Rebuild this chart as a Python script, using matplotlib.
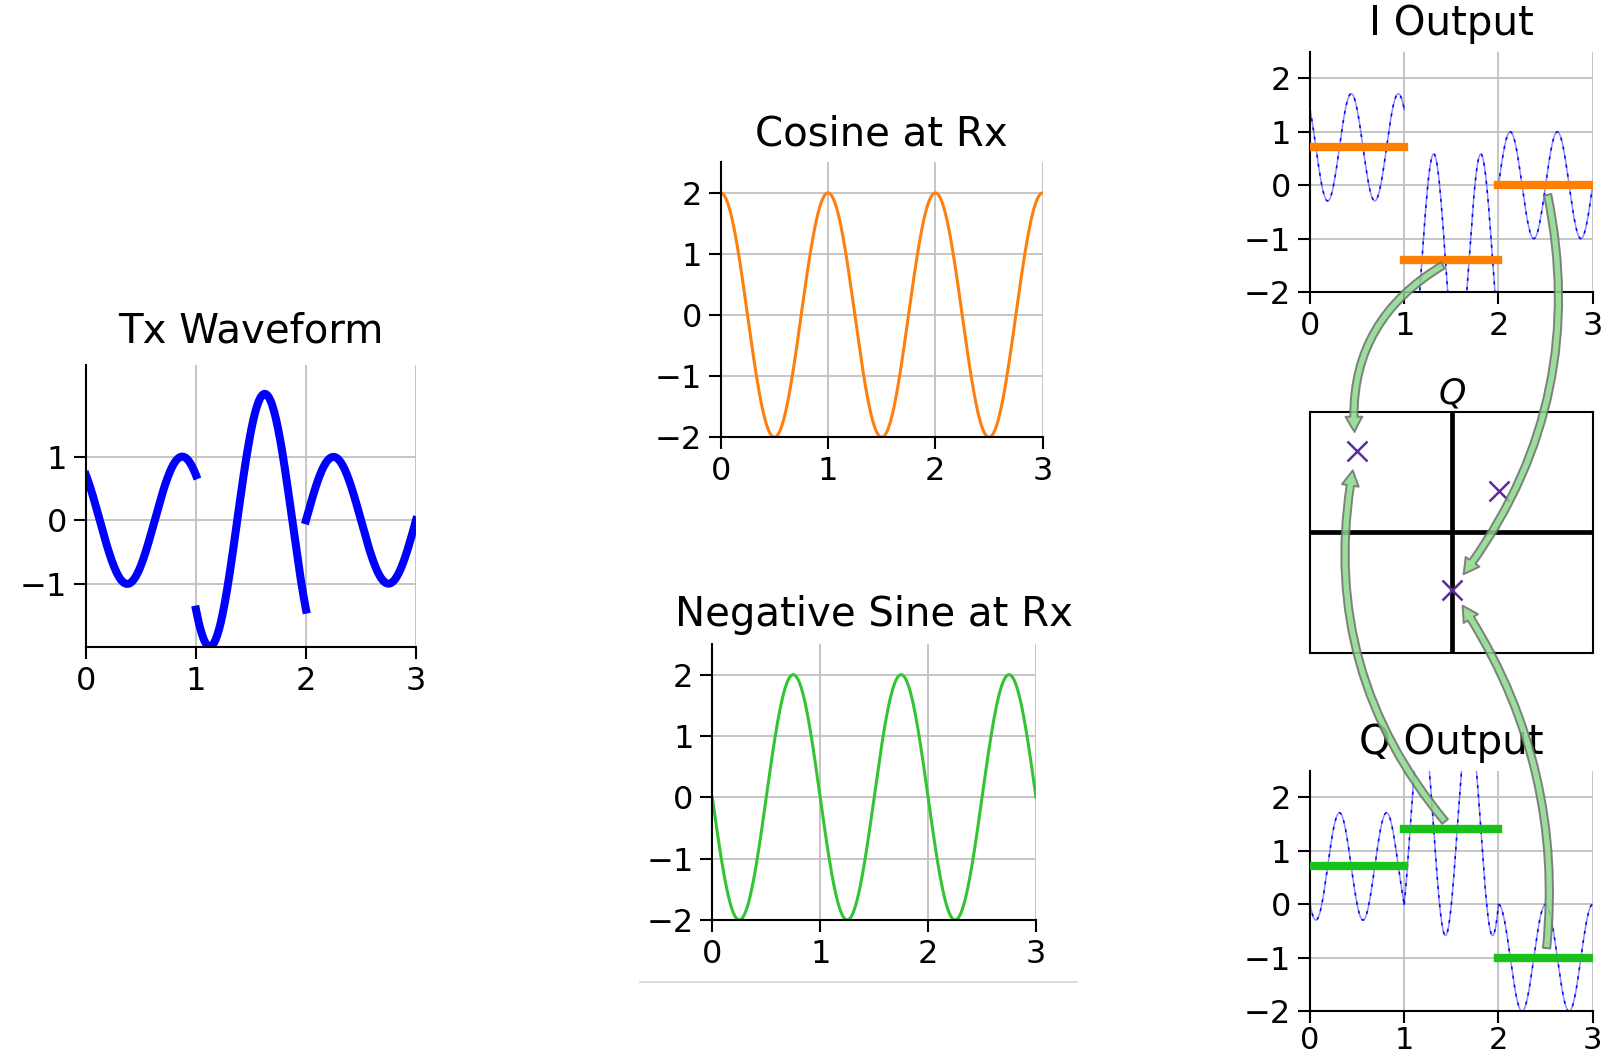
"""
QPSK demodulation sketch: Tx waveform, the two Rx carriers, the I/Q mixer
outputs with their per-symbol averages, and the recovered constellation.
"""

import matplotlib
matplotlib.use("Agg")
import matplotlib.pyplot as plt
import numpy as np
from matplotlib.lines import Line2D
from matplotlib.patches import ConnectionPatch

# symbol values (one per symbol period)
SYMBOL_I = [0.71, -1.41, 0.0]
SYMBOL_Q = [0.71, 1.41, -1.0]
SYMBOL_EDGES = [0, 1, 2, 3]
CARRIER_FREQ = 1.0   # cycles per symbol
RX_AMPLITUDE = 2.0
# which symbols get an arrow to the constellation
ARROW_SYMBOLS = [1, 2]
ARROW_RAD_I = [0.35, -0.24]
ARROW_RAD_Q = [-0.25, 0.19]

W, H = 1601, 1055

plt.rcParams.update({
    "font.family": "DejaVu Sans",
    "font.size": 23,
    "xtick.labelsize": 23,
    "ytick.labelsize": 23,
    "axes.linewidth": 1.5,
    "axes.titlesize": 29,
    "xtick.major.size": 8.5,
    "ytick.major.size": 8.5,
    "xtick.major.width": 1.5,
    "ytick.major.width": 1.5,
    "xtick.major.pad": 5,
    "ytick.major.pad": 5,
    "grid.color": "#c0c0c0",
    "grid.linewidth": 1.3,
})

ORANGE_LINE = "#ff7f0e"
ORANGE_BAR = "#ff7f00"
GREEN_LINE = "#33c433"
GREEN_BAR = "#18c218"
CROSS = "#5b2c9f"


def px_axes(fig, left, right, top, bottom):
    return fig.add_axes([left / W, 1 - bottom / H, (right - left) / W, (bottom - top) / H])


def style_time_axes(ax, yticks, ylim=(-2, 2.5)):
    ax.set_xlim(0, 3)
    ax.set_ylim(*ylim)
    ax.set_xticks([0, 1, 2, 3])
    ax.set_yticks(yticks)
    ax.grid(True)
    ax.set_axisbelow(True)
    for side in ("top", "right"):
        ax.spines[side].set_visible(False)


def segment_time(k, n=200):
    return np.linspace(SYMBOL_EDGES[k], SYMBOL_EDGES[k + 1], n)


def tx_signal(t, k):
    w = 2 * np.pi * CARRIER_FREQ * t
    return SYMBOL_I[k] * np.cos(w) - SYMBOL_Q[k] * np.sin(w)


fig = plt.figure(figsize=(W / 100, H / 100), dpi=100)

# --- Tx waveform
ax_tx = px_axes(fig, 86, 416, 365, 647)
for k in range(len(SYMBOL_I)):
    t = segment_time(k)
    ax_tx.plot(t, tx_signal(t, k), color="blue", lw=5.8)
style_time_axes(ax_tx, [-1, 0, 1], ylim=(-2, 2.45))
ax_tx.set_title("Tx Waveform", pad=16)

# --- Rx carriers
t_all = np.linspace(0, 3, 600)
w_all = 2 * np.pi * CARRIER_FREQ * t_all

ax_cos = px_axes(fig, 720.7, 1042.7, 162.3, 437.3)
ax_cos.plot(t_all, RX_AMPLITUDE * np.cos(w_all), color=ORANGE_LINE, lw=2.2)
style_time_axes(ax_cos, [-2, -1, 0, 1, 2])
ax_cos.set_title("Cosine at Rx", pad=12)

ax_sin = px_axes(fig, 712.3, 1036, 644, 920)
ax_sin.plot(t_all, -RX_AMPLITUDE * np.sin(w_all), color=GREEN_LINE, lw=2.2)
style_time_axes(ax_sin, [-2, -1, 0, 1, 2])
ax_sin.set_title("Negative Sine at Rx", pad=13)

fig.add_artist(Line2D([640 / W, 1077 / W], [1 - 981.7 / H] * 2,
                      color="#d6d6d6", lw=1.2))

# --- mixer outputs
ax_i = px_axes(fig, 1310, 1592.7, 51.7, 292)
ax_q = px_axes(fig, 1310, 1592.7, 770.7, 1011.3)
for k in range(len(SYMBOL_I)):
    t = segment_time(k)
    w = 2 * np.pi * CARRIER_FREQ * t
    tx = tx_signal(t, k)
    i_mix = tx * RX_AMPLITUDE * np.cos(w)
    q_mix = tx * -RX_AMPLITUDE * np.sin(w)
    for ax, y in ((ax_i, i_mix), (ax_q, q_mix)):
        ax.plot(t, y, color="blue", lw=1.1, alpha=0.45)
        ax.plot(t, y, color="blue", lw=1.1, ls=(0, (2, 4)))
    ax_i.plot(SYMBOL_EDGES[k:k + 2], [SYMBOL_I[k]] * 2, color=ORANGE_BAR,
              lw=6, solid_capstyle="projecting", zorder=3)
    ax_q.plot(SYMBOL_EDGES[k:k + 2], [SYMBOL_Q[k]] * 2, color=GREEN_BAR,
              lw=6, solid_capstyle="projecting", zorder=3)
for ax, title in ((ax_i, "I Output"), (ax_q, "Q Output")):
    style_time_axes(ax, [-2, -1, 0, 1, 2])
    ax.set_title(title, pad=12)
# bottom row sits right at the figure edge in the original
ax_q.tick_params(axis="x", pad=2, labelsize=22)

# --- constellation
ax_c = px_axes(fig, 1310.3, 1593, 411.7, 652.7)
ax_c.axhline(0, color="black", lw=3.4)
ax_c.axvline(0, color="black", lw=3.4)
ax_c.plot(SYMBOL_I, SYMBOL_Q, "x", color=CROSS, ms=14, mew=1.8)
ax_c.set_xlim(-2.1, 2.1)
ax_c.set_ylim(-2.1, 2.1)
ax_c.set_xticks([])
ax_c.set_yticks([])
ax_c.set_title("$Q$", fontsize=25, pad=6)

# --- arrows from the averaged outputs to the constellation points
arrow_kw = dict(
    arrowstyle="simple,head_length=0.5,head_width=0.55,tail_width=0.24",
    mutation_scale=22, fc="#8ad98a", ec="#6e6e6e", lw=1.4, alpha=0.85,
    shrinkA=7, shrinkB=14, zorder=10,
)
for k, rad in zip(ARROW_SYMBOLS, ARROW_RAD_I):
    mid = (SYMBOL_EDGES[k] + SYMBOL_EDGES[k + 1]) / 2
    con = ConnectionPatch(xyA=(mid, SYMBOL_I[k]), coordsA=ax_i.transData,
                          xyB=(SYMBOL_I[k], SYMBOL_Q[k]), coordsB=ax_c.transData,
                          connectionstyle=f"arc3,rad={rad}", **arrow_kw)
    fig.add_artist(con)
for k, rad in zip(ARROW_SYMBOLS, ARROW_RAD_Q):
    mid = (SYMBOL_EDGES[k] + SYMBOL_EDGES[k + 1]) / 2
    con = ConnectionPatch(xyA=(mid, SYMBOL_Q[k]), coordsA=ax_q.transData,
                          xyB=(SYMBOL_I[k], SYMBOL_Q[k]), coordsB=ax_c.transData,
                          connectionstyle=f"arc3,rad={rad}", **arrow_kw)
    fig.add_artist(con)

fig.savefig("out.png", dpi=100)
